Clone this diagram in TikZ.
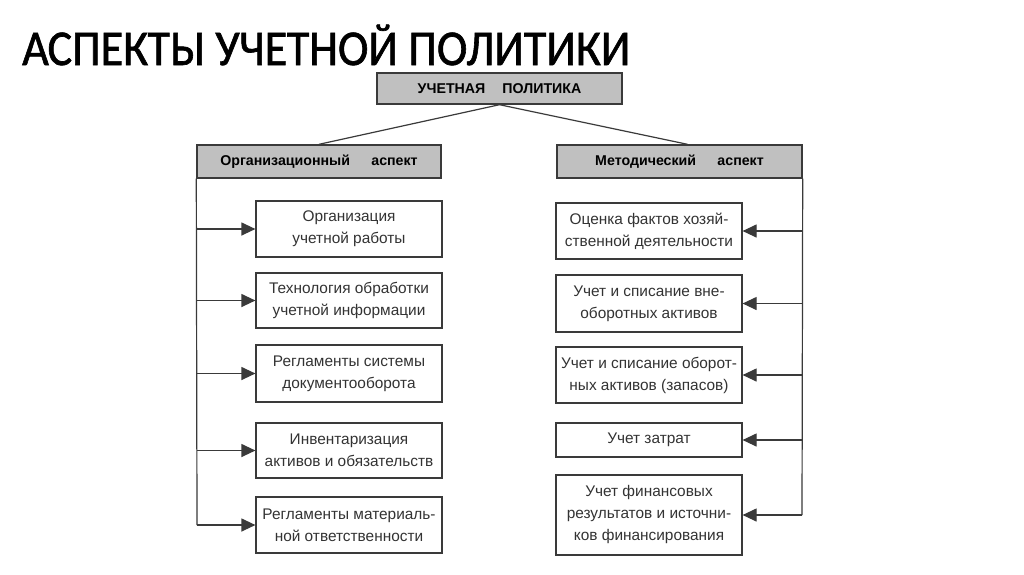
\documentclass[tikz,border=0pt]{standalone}
\usepackage{fontspec}
\setmainfont{Liberation Sans}
\newfontfamily\titlefont[FakeBold=1.3]{Carlito}
\usetikzlibrary{arrows.meta}
\definecolor{hdrgray}{HTML}{C0C0C0}
\definecolor{edge}{HTML}{3A3A3A}
\tikzset{
  hdr/.style={draw=edge, line width=1.4pt, fill=hdrgray, minimum width=244pt, minimum height=33pt, inner sep=0pt, font=\fontsize{14.2}{16}\selectfont\bfseries},
  itembox/.style={draw=edge, line width=1.2pt, fill=white, minimum width=186pt, inner sep=0pt, align=center, text=black!80, font=\fontsize{15.4}{22}\selectfont},
  conn/.style={draw=edge, line width=1.2pt},
  arr/.style={conn, -{Triangle[length=14pt,width=13pt]}}
}
\begin{document}
\begin{tikzpicture}[x=1pt,y=-1pt]
\useasboundingbox[fill=white] (0,0) rectangle (1024,574);
\node[anchor=base west, inner sep=0pt, font=\titlefont\fontsize{50}{60}\selectfont] (title) at (22,65) {\scalebox{0.92}[1]{АСПЕКТЫ УЧЕТНОЙ ПОЛИТИКИ}};
\node[hdr, minimum width=245pt, minimum height=31pt] (top) at (499.5,88.5) {УЧЕТНАЯ\hspace{1.2em}ПОЛИТИКА};
\node[hdr] (LH) at (319,161.5) {Организационный\hspace{1.5em}аспект};
\node[hdr, minimum width=245pt] (RH) at (679.5,161.5) {Методический\hspace{1.5em}аспект};
\draw[conn] (top.south) -- (LH.north);
\draw[conn] (top.south) -- ([xshift=8pt]RH.north);
% left boxes
\node[itembox, minimum height=56pt] (L1) at (349,229) {Организация\\учетной работы};
\node[itembox, minimum height=55pt] (L2) at (349,300.5) {Технология обработки\\учетной информации};
\node[itembox, minimum height=57pt] (L3) at (349,373.5) {Регламенты системы\\документооборота};
\node[itembox, minimum height=55pt] (L4) at (349,450.5) {Инвентаризация\\активов и обязательств};
\node[itembox, minimum height=56pt] (L5) at (349,525) {Регламенты материаль-\\ной ответственности};
% right boxes
\node[itembox, minimum height=56pt] (R1) at (649,231) {Оценка фактов хозяй-\\ственной деятельности};
\node[itembox, minimum height=57pt] (R2) at (649,303.5) {Учет и списание вне-\\оборотных активов};
\node[itembox, minimum height=56pt] (R3) at (649,375) {Учет и списание оборот-\\ных активов (запасов)};
\node[itembox, minimum height=34pt] (R4) at (649,440) {Учет затрат};
\node[itembox, minimum height=80pt] (R5) at (649,515) {Учет финансовых\\результатов и источни-\\ков финансирования};
% buses
\coordinate (lx) at (197,0);
\coordinate (rx) at (802,0);
\draw[conn] (LH.south west) -- (L5.west -| lx);
\foreach \n in {L1,L2,L3,L4,L5} \draw[arr] (\n.west -| lx) -- (\n.west);
\draw[conn] (RH.south east) -- (R5.east -| rx);
\foreach \n in {R1,R2,R3,R4,R5} \draw[arr] (\n.east -| rx) -- (\n.east);
\end{tikzpicture}
\end{document}
